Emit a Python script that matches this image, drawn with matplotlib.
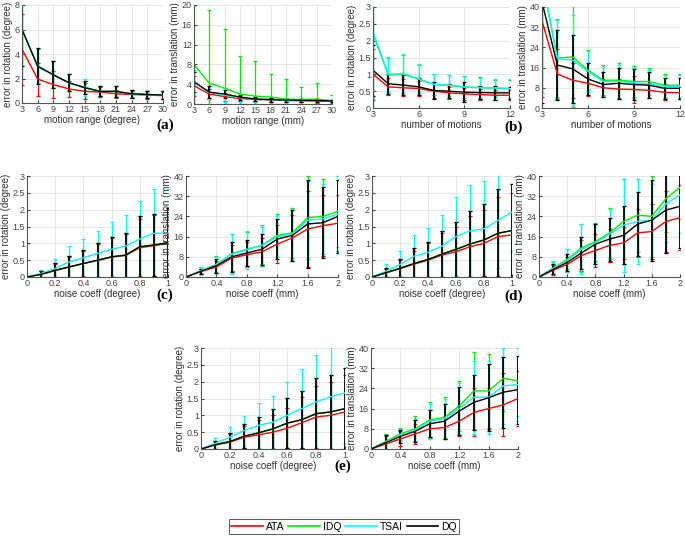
import numpy as np
import matplotlib
matplotlib.use('Agg')
import matplotlib.pyplot as plt

plt.rcParams['font.family'] = ['Liberation Sans', 'DejaVu Sans']

# series order: ATA, IDQ, TSAI, DQ
SERIES = ['ATA', 'IDQ', 'TSAI', 'DQ']
COLORS = ['#ff0000', '#00ee00', '#00ffff', '#000000']

# ---- (a) motion range ----
range_x = [3, 6, 9, 12, 15, 18, 21, 24, 27, 30]
a1_mean = [[4.4, 1.95, 1.5, 1.15, 0.95, 0.9, 0.75, 0.7, 0.65, 0.6],
           [6.0, 3.0, 2.3, 1.65, 1.25, 0.95, 0.95, 0.75, 0.7, 0.65],
           [6.0, 3.05, 2.3, 1.65, 1.3, 0.95, 0.95, 0.75, 0.7, 0.65],
           [6.0, 3.0, 2.3, 1.65, 1.25, 0.95, 0.95, 0.75, 0.7, 0.65]]
a1_sd = [[2.9, 1.35, 1.1, 0.65, 0.65, 0.4, 0.35, 0.3, 0.3, 0.3],
         [3.0, 1.4, 1.1, 0.7, 0.55, 0.4, 0.45, 0.3, 0.3, 0.3],
         [3.0, 1.45, 1.1, 0.7, 0.7, 0.4, 0.45, 0.3, 0.3, 0.3],
         [3.0, 1.45, 1.1, 0.7, 0.55, 0.4, 0.45, 0.35, 0.3, 0.3]]
a2_mean = [[3.7, 2.0, 1.5, 1.1, 0.9, 0.85, 0.7, 0.65, 0.6, 0.55],
           [8.0, 4.2, 3.2, 2.0, 1.6, 1.4, 1.0, 0.9, 1.0, 0.7],
           [4.3, 2.3, 1.8, 1.3, 0.95, 0.9, 0.75, 0.7, 0.7, 0.6],
           [4.5, 2.4, 2.0, 1.4, 1.0, 0.9, 0.8, 0.75, 0.7, 0.6]]
a2_sd = [[2.0, 1.0, 0.8, 0.5, 0.4, 0.35, 0.3, 0.3, 0.3, 0.25],
         [12.5, 14.8, 12.0, 7.6, 7.0, 4.6, 4.0, 2.5, 3.3, 1.2],
         [2.5, 1.3, 1.4, 0.9, 0.5, 0.4, 0.3, 0.3, 0.3, 0.25],
         [2.0, 1.2, 0.8, 0.5, 0.4, 0.4, 0.3, 0.3, 0.3, 0.25]]

# ---- (b) number of motions ----
motions_x = [3, 4, 5, 6, 7, 8, 9, 10, 11, 12]
b1_mean = [[1.0, 0.63, 0.6, 0.58, 0.5, 0.45, 0.42, 0.4, 0.38, 0.38],
           [2.2, 0.98, 1.0, 0.86, 0.7, 0.67, 0.62, 0.61, 0.59, 0.57],
           [2.25, 1.0, 1.02, 0.87, 0.7, 0.68, 0.63, 0.6, 0.6, 0.58],
           [1.12, 0.72, 0.68, 0.63, 0.52, 0.5, 0.47, 0.46, 0.45, 0.45]]
b1_sd = [[0.75, 0.25, 0.25, 0.22, 0.2, 0.18, 0.18, 0.16, 0.15, 0.15],
         [2.3, 0.5, 0.56, 0.42, 0.3, 0.3, 0.32, 0.3, 0.25, 0.27],
         [2.3, 0.52, 0.58, 0.43, 0.3, 0.3, 0.32, 0.3, 0.25, 0.27],
         [0.75, 0.3, 0.3, 0.25, 0.25, 0.2, 0.3, 0.18, 0.2, 0.18]]
b2_mean = [[34.5, 13.5, 11.0, 9.8, 8.0, 7.5, 7.3, 7.0, 6.2, 6.0],
           [51.0, 19.8, 20.2, 15.0, 11.0, 11.0, 10.5, 10.5, 9.0, 9.0],
           [51.0, 19.5, 19.0, 14.5, 10.5, 10.5, 10.0, 9.5, 8.5, 8.5],
           [42.0, 17.0, 15.5, 11.5, 9.3, 9.8, 9.3, 9.0, 7.8, 7.8]]
b2_sd = [[30.0, 10.0, 7.0, 5.0, 3.5, 4.0, 5.3, 3.0, 3.2, 2.5],
         [45.0, 15.5, 20.0, 8.0, 6.0, 7.0, 6.0, 5.5, 4.5, 4.5],
         [45.0, 15.5, 18.0, 8.0, 5.7, 6.5, 6.0, 5.7, 4.5, 4.5],
         [40.0, 14.0, 13.5, 6.5, 5.0, 6.2, 6.0, 5.2, 4.2, 4.2]]

# ---- (c)(d)(e) noise coefficient ----
noise_deg = [0, 0.1, 0.2, 0.3, 0.4, 0.5, 0.6, 0.7, 0.8, 0.9, 1.0]
noise_mm = [0, 0.2, 0.4, 0.6, 0.8, 1.0, 1.2, 1.4, 1.6, 1.8, 2.0]

c1_mean = [[0, 0.08, 0.19, 0.3, 0.4, 0.49, 0.59, 0.64, 0.87, 0.93, 1.0],
           [0, 0.08, 0.2, 0.3, 0.4, 0.5, 0.6, 0.65, 0.9, 0.95, 1.02],
           [0, 0.1, 0.25, 0.45, 0.57, 0.7, 0.82, 0.92, 1.13, 1.3, 1.3],
           [0, 0.08, 0.2, 0.3, 0.4, 0.5, 0.6, 0.65, 0.9, 0.95, 1.02]]
c1_sd = [[0, 0.09, 0.2, 0.3, 0.38, 0.5, 0.58, 0.64, 0.85, 0.9, 1.0],
         [0, 0.1, 0.22, 0.33, 0.4, 0.52, 0.6, 0.67, 0.92, 0.93, 1.03],
         [0, 0.12, 0.28, 0.47, 0.56, 0.68, 0.81, 0.93, 1.12, 1.3, 1.3],
         [0, 0.1, 0.22, 0.33, 0.4, 0.52, 0.6, 0.67, 0.92, 0.93, 1.03]]
c2_mean = [[0, 2.2, 4.0, 7.5, 8.8, 10.0, 13.0, 15.5, 19.0, 20.3, 21.3],
           [0, 2.5, 5.0, 9.2, 11.0, 12.5, 16.5, 17.5, 23.5, 24.0, 26.0],
           [0, 2.5, 5.0, 9.0, 10.8, 12.5, 16.0, 17.0, 22.5, 23.0, 25.0],
           [0, 2.3, 4.5, 8.0, 9.5, 11.0, 15.0, 16.5, 21.0, 21.5, 24.0]]
c2_sd = [[0, 1.0, 2.5, 5.0, 5.0, 5.5, 7.5, 9.0, 15.0, 12.0, 11.0],
         [0, 1.5, 3.5, 8.0, 7.0, 8.0, 8.5, 10.0, 16.5, 15.0, 14.0],
         [0, 1.5, 3.0, 8.0, 7.5, 7.5, 8.0, 10.0, 15.5, 14.0, 15.0],
         [0, 1.0, 2.8, 6.0, 5.2, 6.2, 8.0, 10.0, 17.5, 14.0, 14.5]]

d1_mean = [[0, 0.12, 0.25, 0.38, 0.5, 0.65, 0.75, 0.9, 1.0, 1.2, 1.25],
           [0, 0.13, 0.26, 0.4, 0.52, 0.68, 0.82, 0.98, 1.1, 1.3, 1.38],
           [0, 0.17, 0.37, 0.62, 0.73, 0.92, 1.2, 1.37, 1.43, 1.68, 1.93],
           [0, 0.13, 0.26, 0.4, 0.52, 0.68, 0.82, 0.98, 1.1, 1.3, 1.38]]
d1_sd = [[0, 0.12, 0.25, 0.39, 0.5, 0.65, 0.75, 0.9, 1.0, 1.17, 1.25],
         [0, 0.14, 0.27, 0.45, 0.53, 0.69, 0.81, 0.97, 1.08, 1.3, 1.39],
         [0, 0.21, 0.4, 0.62, 0.74, 0.91, 1.17, 1.35, 1.42, 1.42, 1.17],
         [0, 0.14, 0.27, 0.45, 0.53, 0.69, 0.81, 0.97, 1.08, 1.3, 1.39]]
d2_mean = [[0, 2.7, 5.0, 8.5, 10.5, 12.5, 13.5, 17.5, 18.0, 22.0, 23.5],
           [0, 3.5, 7.0, 11.5, 14.0, 17.5, 22.0, 24.5, 24.0, 31.0, 35.5],
           [0, 3.3, 6.5, 11.0, 13.5, 17.0, 20.5, 22.0, 22.5, 29.0, 32.5],
           [0, 3.0, 5.8, 9.5, 13.0, 15.0, 16.5, 21.0, 22.5, 26.5, 28.0]]
d2_sd = [[0, 2.0, 3.0, 6.0, 6.5, 6.5, 6.5, 9.5, 11.0, 12.0, 13.0],
         [0, 2.5, 4.0, 9.5, 7.5, 10.0, 17.0, 14.5, 16.0, 13.0, 12.5],
         [0, 3.2, 4.5, 10.0, 7.5, 10.0, 18.5, 17.0, 14.5, 15.0, 15.0],
         [0, 2.0, 3.3, 6.5, 8.0, 8.5, 11.5, 12.5, 16.0, 17.0, 16.5]]

e1_mean = [[0, 0.12, 0.2, 0.35, 0.42, 0.5, 0.62, 0.78, 0.95, 1.0, 1.1],
           [0, 0.13, 0.22, 0.38, 0.48, 0.6, 0.77, 0.87, 1.05, 1.1, 1.2],
           [0, 0.17, 0.35, 0.55, 0.7, 0.8, 1.0, 1.2, 1.4, 1.55, 1.67],
           [0, 0.13, 0.22, 0.38, 0.48, 0.6, 0.77, 0.87, 1.05, 1.1, 1.2]]
e1_sd = [[0, 0.12, 0.24, 0.33, 0.43, 0.5, 0.6, 0.77, 0.92, 1.0, 1.1],
         [0, 0.12, 0.25, 0.35, 0.47, 0.6, 0.75, 0.85, 1.05, 1.1, 1.2],
         [0, 0.16, 0.3, 0.43, 0.67, 0.77, 1.0, 1.18, 1.4, 1.55, 1.53],
         [0, 0.12, 0.25, 0.35, 0.47, 0.6, 0.75, 0.85, 1.05, 1.1, 1.2]]
e2_mean = [[0, 2.0, 4.0, 6.0, 8.0, 8.5, 11.0, 14.5, 16.0, 17.5, 20.0],
           [0, 3.0, 6.0, 8.0, 11.5, 12.5, 17.0, 23.0, 23.0, 28.0, 27.0],
           [0, 2.7, 5.5, 7.5, 11.0, 12.0, 16.0, 20.5, 20.5, 25.0, 25.5],
           [0, 2.5, 5.0, 7.0, 10.0, 11.0, 15.0, 18.5, 20.3, 22.5, 23.5]]
e2_sd = [[0, 3.0, 3.0, 4.0, 3.5, 4.5, 6.0, 9.5, 8.0, 12.5, 11.0],
         [0, 3.0, 2.5, 5.0, 7.0, 8.0, 10.0, 15.5, 14.5, 13.0, 14.0],
         [0, 2.8, 2.5, 4.5, 7.0, 8.0, 10.0, 14.5, 14.5, 15.0, 14.5],
         [0, 3.0, 2.5, 4.3, 5.3, 7.0, 9.5, 11.0, 13.2, 14.0, 13.5]]

fig = plt.figure(figsize=(6.85, 5.37), dpi=100)
W, H = 685.0, 537.0


def make_ax(x0, x1, y0, y1):
    return fig.add_axes([x0 / W, 1 - y1 / H, (x1 - x0) / W, (y1 - y0) / H])


def draw(ax, x, means, sds, ylim, yticks, xticks, xlabel, ylabel):
    for mean, sd, c in zip(means, sds, COLORS):
        lw_e = 1.3 if c == '#000000' else 0.9
        ax.errorbar(x, mean, yerr=sd, color=c, linewidth=1.0, elinewidth=lw_e,
                    capsize=1.5, capthick=0.9)
    ax.set_xlim(x[0], x[-1])
    ax.set_ylim(*ylim)
    ax.set_yticks(yticks)
    ax.set_yticklabels([f'{t:g}' for t in yticks])
    ax.set_xticks(xticks)
    ax.set_xticklabels([f'{t:g}' for t in xticks])
    ax.grid(True, color='#e6e6e6', linewidth=0.7)
    ax.set_axisbelow(True)
    for s in ['top', 'right']:
        ax.spines[s].set_visible(False)
    for s in ['left', 'bottom']:
        ax.spines[s].set_color('#555555')
        ax.spines[s].set_linewidth(0.8)
    ax.tick_params(direction='in', length=2, labelsize=6.5, colors='#444444',
                   pad=1.5)
    ax.set_xlabel(xlabel, fontsize=7, color='#333333', labelpad=1)
    ax.set_ylabel(ylabel, fontsize=7, color='#333333', labelpad=1)


rot = 'error in rotation (degree)'
tra = 'error in translation (mm)'
t40 = [0, 8, 16, 24, 32, 40]
t3 = [0, 0.5, 1, 1.5, 2, 2.5, 3]

ax = make_ax(22, 163, 5, 103)
draw(ax, range_x, a1_mean, a1_sd, (0, 8), [0, 2, 4, 6, 8], range_x,
     'motion range (degree)', rot)
ax = make_ax(194, 332, 5, 104)
draw(ax, range_x, a2_mean, a2_sd, (0, 20), [0, 4, 8, 12, 16, 20], range_x,
     'motion range (mm)', tra)
ax = make_ax(373, 510, 7, 108)
draw(ax, motions_x, b1_mean, b1_sd, (0, 3), t3, [3, 6, 9, 12],
     'number of motions', rot)
ax = make_ax(542, 680, 7, 108)
draw(ax, motions_x, b2_mean, b2_sd, (0, 40), t40, [3, 6, 9, 12],
     'number of motions', tra)

deg_ticks = [0, 0.2, 0.4, 0.6, 0.8, 1]
mm_ticks = [0, 0.4, 0.8, 1.2, 1.6, 2]

ax = make_ax(27, 168, 176, 277)
draw(ax, noise_deg, c1_mean, c1_sd, (0, 3), t3, deg_ticks,
     'noise coeff (degree)', rot)
ax = make_ax(186, 338, 176, 277)
draw(ax, noise_mm, c2_mean, c2_sd, (0, 40), t40, mm_ticks,
     'noise coeff (mm)', tra)
ax = make_ax(372, 512, 176, 277)
draw(ax, noise_deg, d1_mean, d1_sd, (0, 3), t3, deg_ticks,
     'noise coeff (degree)', rot)
ax = make_ax(539, 680, 176, 277)
draw(ax, noise_mm, d2_mean, d2_sd, (0, 40), t40, mm_ticks,
     'noise coeff (mm)', tra)
ax = make_ax(201, 345, 348, 449)
draw(ax, noise_deg, e1_mean, e1_sd, (0, 3), t3, deg_ticks,
     'noise coeff (degree)', rot)
ax = make_ax(371, 518, 348, 449)
draw(ax, noise_mm, e2_mean, e2_sd, (0, 40), t40, mm_ticks,
     'noise coeff (mm)', tra)

# panel letters
for lab, px, py in [('(a)', 165, 125), ('(b)', 514, 127), ('(c)', 165, 295),
                    ('(d)', 514, 296), ('(e)', 343, 466)]:
    fig.text(px / W, 1 - py / H, lab, ha='center', va='center', fontsize=11,
             fontweight='bold', family='Liberation Serif')

handles = [plt.Line2D([], [], color=c, linewidth=1.2) for c in COLORS]
leg = fig.legend(handles, SERIES, loc='center', ncol=4,
                 bbox_to_anchor=(344 / W, 1 - 526.5 / H), fontsize=7.5,
                 frameon=True, fancybox=False, edgecolor='#333333',
                 handlelength=3.0, handletextpad=0.3, columnspacing=0.4,
                 borderpad=0.25, borderaxespad=0)
leg.get_frame().set_linewidth(0.7)

fig.savefig('out.png', dpi=100)
